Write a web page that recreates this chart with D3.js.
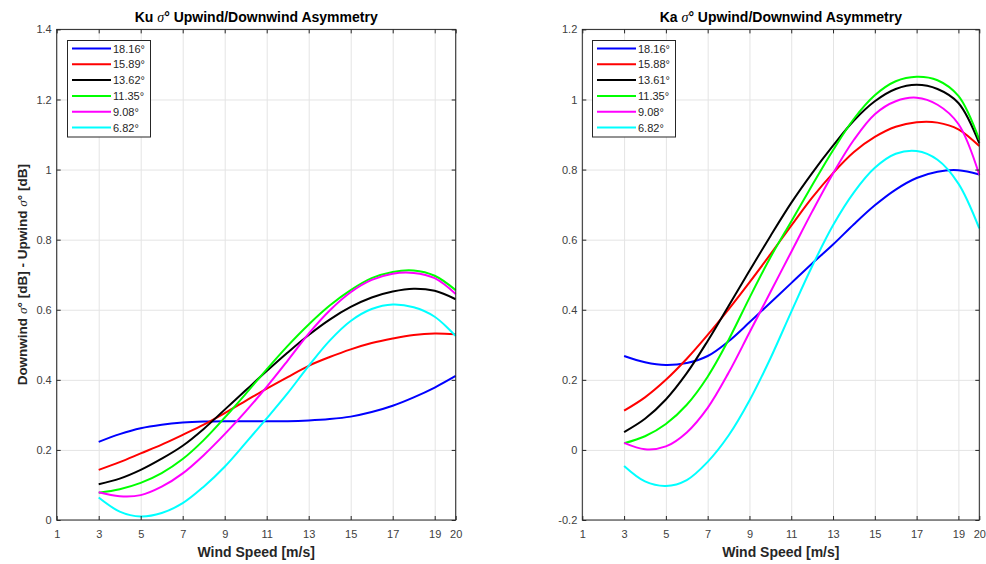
<!DOCTYPE html>
<html>
<head>
<meta charset="utf-8">
<script src="https://cdn.jsdelivr.net/npm/d3@7"></script>
<style>
  html, body { margin: 0; padding: 0; background: #fff; }
  svg { display: block; font-family: "Liberation Sans", Arial, sans-serif; }
</style>
</head>
<body>
<svg id="chart" width="986" height="564"></svg>
<script>
// ---------------- data ----------------
const windSpeed = [3,4,5,6,7,8,9,10,11,12,13,14,15,16,17,18,19,20];
const xTicks = [1,3,5,7,9,11,13,15,17,19,20];
const kuYTicks = [0,0.2,0.4,0.6,0.8,1,1.2,1.4];
const kaYTicks = [-0.2,0,0.2,0.4,0.6,0.8,1,1.2];

const kuLabels = ["18.16°","15.89°","13.62°","11.35°","9.08°","6.82°"];
const kaLabels = ["18.16°","15.88°","13.61°","11.35°","9.08°","6.82°"];

const ku_1816 = [0.223,0.245,0.262,0.272,0.278,0.281,0.282,0.282,0.282,0.282,0.284,0.288,0.295,0.308,0.326,0.350,0.378,0.411];
const ku_1589 = [0.143,0.165,0.190,0.215,0.243,0.272,0.305,0.340,0.375,0.408,0.440,0.465,0.487,0.505,0.518,0.528,0.532,0.530];
const ku_1362 = [0.102,0.118,0.143,0.175,0.212,0.260,0.315,0.370,0.425,0.478,0.528,0.572,0.608,0.635,0.652,0.660,0.654,0.630];
const ku_1135 = [0.078,0.088,0.106,0.134,0.174,0.228,0.292,0.360,0.430,0.497,0.558,0.612,0.656,0.690,0.708,0.712,0.697,0.656];
const ku_0908 = [0.079,0.068,0.071,0.095,0.133,0.185,0.245,0.310,0.380,0.455,0.532,0.598,0.650,0.685,0.703,0.705,0.690,0.645];
const ku_0682 = [0.064,0.024,0.010,0.020,0.048,0.095,0.152,0.220,0.290,0.362,0.440,0.512,0.568,0.602,0.615,0.607,0.580,0.525];

const ka_1816 = [0.268,0.250,0.242,0.248,0.268,0.310,0.364,0.420,0.476,0.532,0.586,0.644,0.698,0.743,0.776,0.794,0.798,0.786];
const ka_1588 = [0.112,0.150,0.200,0.260,0.328,0.401,0.478,0.558,0.640,0.720,0.790,0.850,0.893,0.922,0.935,0.934,0.915,0.867];
const ka_1361 = [0.051,0.089,0.144,0.219,0.311,0.411,0.511,0.610,0.705,0.790,0.868,0.940,0.995,1.030,1.042,1.030,0.990,0.875];
const ka_1135 = [0.019,0.039,0.074,0.129,0.209,0.314,0.434,0.549,0.652,0.755,0.855,0.945,1.012,1.052,1.065,1.055,1.010,0.885];
const ka_0908 = [0.020,0.002,0.010,0.050,0.120,0.220,0.335,0.450,0.565,0.680,0.789,0.885,0.958,0.995,1.005,0.985,0.930,0.785];
const ka_0682 = [-0.046,-0.090,-0.103,-0.086,-0.034,0.041,0.141,0.261,0.394,0.524,0.641,0.735,0.805,0.845,0.853,0.828,0.760,0.632];

const kuSeries = [ku_1816, ku_1589, ku_1362, ku_1135, ku_0908, ku_0682];
const kaSeries = [ka_1816, ka_1588, ka_1361, ka_1135, ka_0908, ka_0682];

// ---------------- styles ----------------
const colors = ["#0000ff","#ff0000","#000000","#00ff00","#ff00ff","#00ffff"];
const axisColor = "#262626";
const tickTextColor = "#404040";
const gridColor = "#e4e4e4";

const svg = d3.select("#chart");

function drawPanel(opt) {
  const { x0, x1, yTop, yBot, yDomain, yTicks, series, labels, band, legendX, showYLabel } = opt;
  const x = d3.scaleLinear().domain([1, 20]).range([x0, x1]);
  const y = d3.scaleLinear().domain(yDomain).range([yBot, yTop]);
  const g = svg.append("g");
  const W = x1 - x0, H = yBot - yTop;
  const fmt = d => String(Math.round(d * 10) / 10);

  // grid
  g.append("g").attr("transform", `translate(0,${yBot})`)
    .call(d3.axisBottom(x).tickValues(xTicks).tickSize(-H).tickFormat(""))
    .call(s => { s.select(".domain").remove(); s.selectAll("line").attr("stroke", gridColor); });
  g.append("g").attr("transform", `translate(${x0},0)`)
    .call(d3.axisLeft(y).tickValues(yTicks).tickSize(-W).tickFormat(""))
    .call(s => { s.select(".domain").remove(); s.selectAll("line").attr("stroke", gridColor); });

  // lines
  const line = d3.line()
    .x((d, i) => x(windSpeed[i]))
    .y(d => y(d))
    .curve(d3.curveCatmullRom.alpha(0.5));
  g.selectAll("path.series").data(series).join("path")
    .attr("class", "series")
    .attr("fill", "none")
    .attr("stroke", (d, i) => colors[i])
    .attr("stroke-width", 2)
    .attr("d", line);

  // axes (ticks inward)
  const styleAxis = s => {
    s.select(".domain").remove();
    s.selectAll("line").attr("stroke", axisColor);
    s.selectAll("text").attr("fill", tickTextColor).style("font-size", "11px")
      .style("font-family", '"Liberation Sans", Arial, sans-serif');
  };
  g.append("g").attr("transform", `translate(0,${yBot})`)
    .call(d3.axisBottom(x).tickValues(xTicks).tickSize(-4).tickPadding(10).tickFormat(d3.format("d")))
    .call(styleAxis);
  g.append("g").attr("transform", `translate(0,${yTop})`)
    .call(d3.axisTop(x).tickValues(xTicks).tickSize(-4).tickFormat(""))
    .call(styleAxis);
  g.append("g").attr("transform", `translate(${x0},0)`)
    .call(d3.axisLeft(y).tickValues(yTicks).tickSize(-4).tickPadding(5).tickFormat(fmt))
    .call(styleAxis);
  g.append("g").attr("transform", `translate(${x1},0)`)
    .call(d3.axisRight(y).tickValues(yTicks).tickSize(-4).tickFormat(""))
    .call(styleAxis);

  // box
  g.append("rect").attr("x", x0).attr("y", yTop).attr("width", W).attr("height", H)
    .attr("fill", "none").attr("stroke", axisColor).attr("stroke-width", 1);

  // title
  const cx = (x0 + x1) / 2;
  const t = g.append("text").attr("x", cx).attr("y", 22).attr("text-anchor", "middle")
    .attr("fill", "#000").style("font-size", "14px").style("font-weight", "bold");
  t.append("tspan").text(band + " ");
  t.append("tspan").text("σ").style("font-style", "italic").style("font-weight", "normal")
    .style("font-family", '"Liberation Serif", "DejaVu Serif", serif');
  t.append("tspan").text("° Upwind/Downwind Asymmetry");

  // x label
  g.append("text").attr("x", cx).attr("y", 557).attr("text-anchor", "middle")
    .attr("fill", axisColor).style("font-size", "14px").style("font-weight", "bold")
    .text("Wind Speed [m/s]");

  // y label
  if (showYLabel) {
    const yl = g.append("text")
      .attr("transform", `translate(27,${(yTop + yBot) / 2}) rotate(-90)`)
      .attr("text-anchor", "middle").attr("fill", axisColor)
      .style("font-size", "13.5px").style("font-weight", "bold");
    yl.append("tspan").text("Downwind ");
    yl.append("tspan").text("σ").style("font-style", "italic").style("font-weight", "normal")
      .style("font-family", '"Liberation Serif", "DejaVu Serif", serif');
    yl.append("tspan").text("° [dB] - Upwind ");
    yl.append("tspan").text("σ").style("font-style", "italic").style("font-weight", "normal")
      .style("font-family", '"Liberation Serif", "DejaVu Serif", serif');
    yl.append("tspan").text("° [dB]");
  }

  // legend
  const lg = g.append("g").attr("transform", `translate(${legendX},40.5)`);
  lg.append("rect").attr("x", 0).attr("y", 0).attr("width", 83).attr("height", 96.5)
    .attr("fill", "#fff").attr("stroke", axisColor).attr("stroke-width", 1);
  labels.forEach((lab, i) => {
    const ry = 8 + i * 15.8;
    lg.append("line").attr("x1", 4.5).attr("x2", 43.5).attr("y1", ry).attr("y2", ry)
      .attr("stroke", colors[i]).attr("stroke-width", 2);
    lg.append("text").attr("x", 45.5).attr("y", ry + 4).attr("fill", axisColor)
      .style("font-size", "11px").text(lab);
  });
}

drawPanel({ x0: 56.7, x1: 455.7, yTop: 29.4, yBot: 520, yDomain: [0, 1.4], yTicks: kuYTicks,
  series: kuSeries, labels: kuLabels, band: "Ku", legendX: 67.5, showYLabel: true });
drawPanel({ x0: 582.3, x1: 979.3, yTop: 29.4, yBot: 520, yDomain: [-0.2, 1.2], yTicks: kaYTicks,
  series: kaSeries, labels: kaLabels, band: "Ka", legendX: 592.5, showYLabel: false });
</script>
</body>
</html>
